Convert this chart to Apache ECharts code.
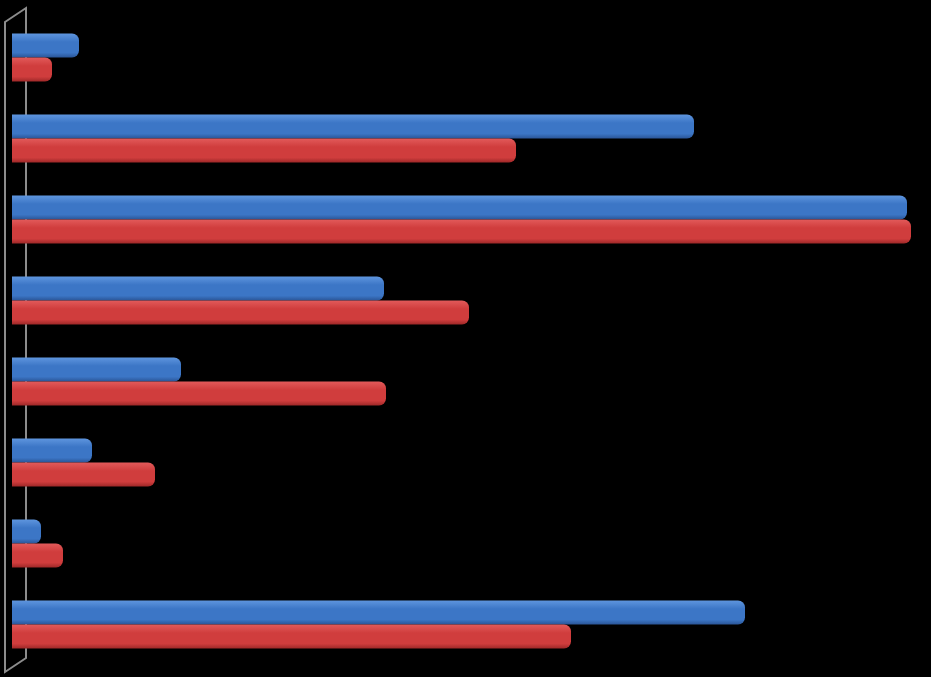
<!DOCTYPE html>
<html><head><meta charset="utf-8">
<script src="https://cdn.jsdelivr.net/npm/echarts@6/dist/echarts.min.js"></script>
<style>html,body{margin:0;padding:0;background:#000;}#c{width:931px;height:677px;}</style>
</head><body><div id="c"></div>
<script>
var categories = ['1','2','3','4','5','6','7','8'];
var seriesA = [67, 682, 895, 372, 169, 80, 29, 733];
var seriesB = [40, 504, 899, 457, 374, 143, 51, 559];

function grad(top, mid, bot) {
  return new echarts.graphic.LinearGradient(0, 0, 0, 1, [
    {offset: 0, color: top}, {offset: 0.35, color: mid}, {offset: 0.8, color: mid}, {offset: 1, color: bot}
  ]);
}
var chart = echarts.init(document.getElementById('c'));
chart.setOption({
  backgroundColor: '#000',
  animation: false,
  grid: {left: 12, right: 19, top: 17, bottom: 12, containLabel: false},
  xAxis: {type: 'value', min: 0, max: 900, show: false},
  yAxis: {type: 'category', data: categories, inverse: true, show: false},
  graphic: [{
    type: 'polygon', z: -10, silent: true,
    shape: {points: [[5,22],[26,8],[26,658],[5,672]]},
    style: {fill: 'none', stroke: '#8c8c8c', lineWidth: 2}
  }],
  series: [
    {type: 'bar', data: seriesA, barWidth: 24, barGap: '0%', barCategoryGap: '40%',
     itemStyle: {color: grad('#5e95de', '#3c76c6', '#2a5597'), borderRadius: [0, 7, 7, 0]}},
    {type: 'bar', data: seriesB, barWidth: 24,
     itemStyle: {color: grad('#e25a5a', '#d03d3d', '#9e2828'), borderRadius: [0, 7, 7, 0]}}
  ]
});
</script></body></html>
